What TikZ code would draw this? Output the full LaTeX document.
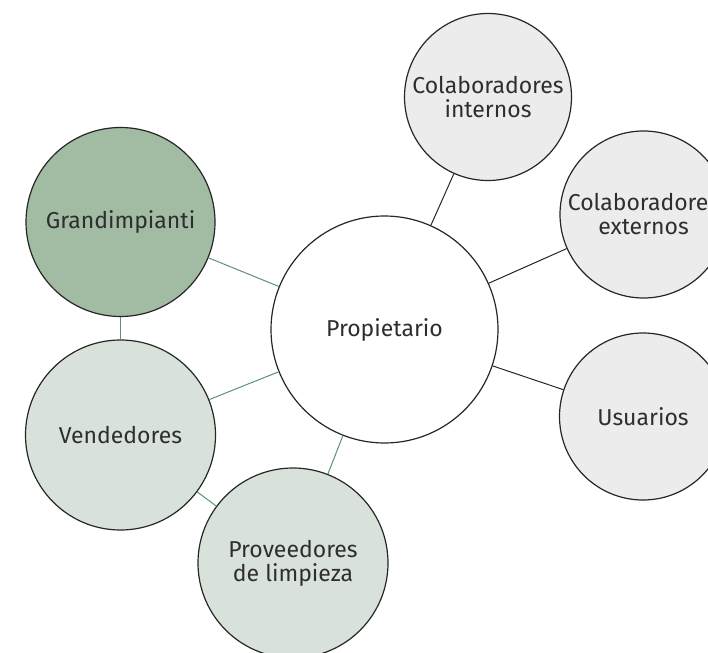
\documentclass[tikz,border=0pt]{standalone}
\usepackage{fontspec}
\setmainfont{Fira Sans}
\usepackage{tikz}
\definecolor{sage}{HTML}{A2BBA3}
\definecolor{lightsage}{HTML}{D9E2DA}
\definecolor{lightgray}{HTML}{ECECEC}
\definecolor{linkgreen}{HTML}{5B9272}
\definecolor{txt}{HTML}{2E2E2E}

\begin{document}
\begin{tikzpicture}[x=1pt,y=-1pt,line width=1pt,
                    every node/.style={font=\fontsize{23}{24}\selectfont,text=txt,align=center}]
      \tikzstyle{bubble}=[circle,draw=black!85,line width=1.2pt,inner sep=0pt]
      \tikzstyle{owner}=[bubble,fill=white,minimum size=227pt]
      \tikzstyle{inner}=[bubble,fill=lightgray,minimum size=167pt]
      \tikzstyle{supplier}=[bubble,fill=lightsage,minimum size=190pt]
      \tikzstyle{main supplier}=[bubble,fill=sage,minimum size=189pt]

      \useasboundingbox (0,0) rectangle (708,652);

      \node[owner]         (P) at (384.5,329.5) {Propietario};
      \node[inner]         (CI) at (488,97)     {Colaboradores\\internos};
      \node[inner]         (CE) at (643.5,214.5) {Colaboradores\\externos};
      \node[inner]         (U) at (643,416.5)   {Usuarios};
      \node[main supplier] (G) at (120.5,222)   {Grandimpianti};
      \node[supplier]      (V) at (120.5,435)   {Vendedores};
      \node[supplier]      (L) at (293,563)     {Proveedores\\de limpieza};

      \path[draw=black!85] (P) edge (CI)
                               edge (CE)
                               edge (U);
      \path[draw=linkgreen] (P) edge (G)
                                edge (V)
                                edge (L)
                            (G) edge (V)
                            (V) edge (L);

    \end{tikzpicture}
\end{document}
